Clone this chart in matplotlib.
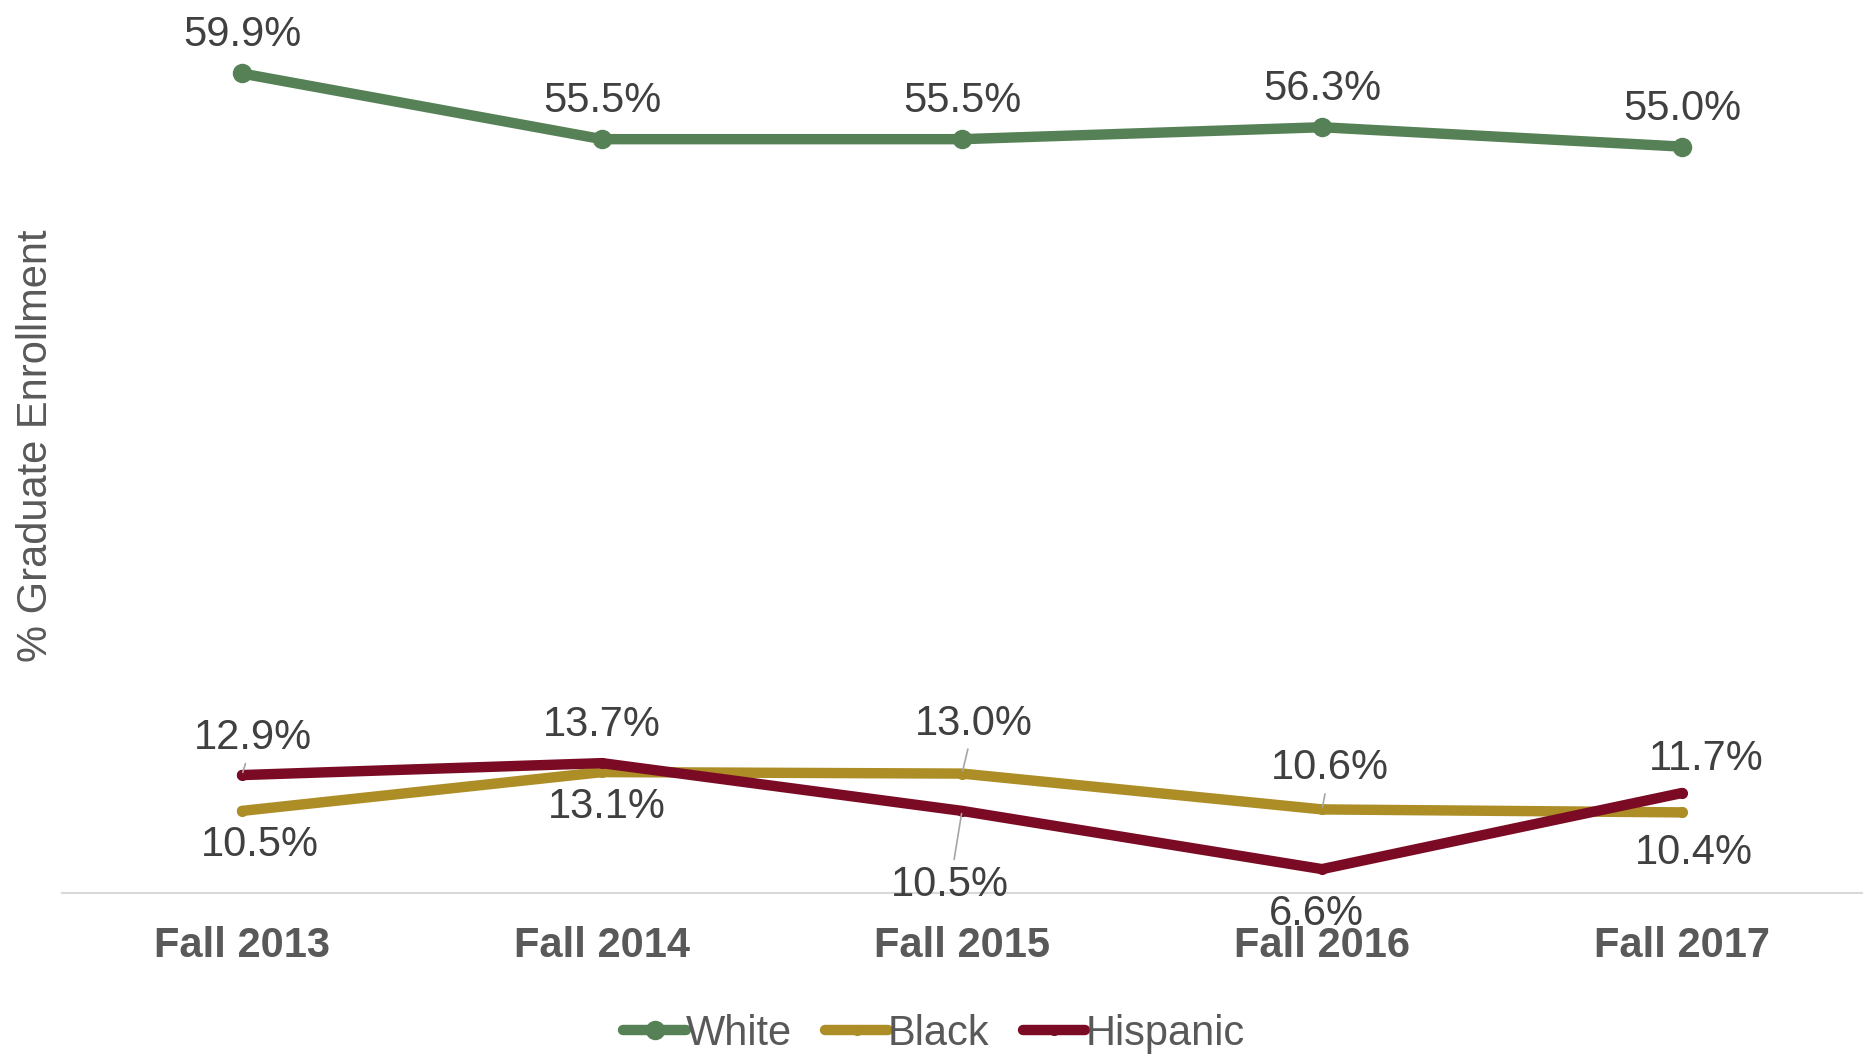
import matplotlib
matplotlib.use("Agg")
import matplotlib.pyplot as plt

plt.rcParams['font.family'] = ['Liberation Sans', 'DejaVu Sans']

categories = ["Fall 2013", "Fall 2014", "Fall 2015", "Fall 2016", "Fall 2017"]
white = [59.9, 55.5, 55.5, 56.3, 55.0]
black = [10.5, 13.1, 13.0, 10.6, 10.4]
hispanic = [12.9, 13.7, 10.5, 6.6, 11.7]
legend_labels = ["White", "Black", "Hispanic"]
ylabel = "% Graduate Enrollment"

c_white = "#568157"
c_black = "#AD8D26"
c_hisp = "#7B0B25"
txt_dark = "#404040"
txt_gray = "#595959"
lead = "#A6A6A6"

W, H = 1865, 1060
fig = plt.figure(figsize=(W / 100, H / 100), dpi=100)
ax = fig.add_axes([62 / W, 1 - 893 / H, 1800 / W, 821 / H])

x = list(range(len(categories)))
ax.plot(x, white, color=c_white, lw=7.5, marker='o', ms=13,
        solid_capstyle='round', label=legend_labels[0], zorder=3, clip_on=False)
ax.plot(x, black, color=c_black, lw=7.5, marker='o', ms=7,
        solid_capstyle='round', label=legend_labels[1], zorder=4, clip_on=False)
ax.plot(x, hispanic, color=c_hisp, lw=7.5, marker='o', ms=7,
        solid_capstyle='round', label=legend_labels[2], zorder=5, clip_on=False)

ax.set_xlim(-0.5, 4.5)
ax.set_ylim(5, 60)
ax.set_yticks([])
ax.set_xticks(x)
ax.set_xticklabels(categories, fontsize=30, fontweight='bold', color=txt_gray)
ax.tick_params(axis='x', length=0, pad=24)
for s in ['top', 'right', 'left']:
    ax.spines[s].set_visible(False)
ax.spines['bottom'].set_color('#D9D9D9')
ax.spines['bottom'].set_linewidth(1.5)

def lab(xi, yi, dx, dy, leader=False):
    kw = dict(textcoords='offset pixels', ha='center', va='center',
              fontsize=30, color=txt_dark, zorder=6, annotation_clip=False)
    if leader:
        kw['arrowprops'] = dict(arrowstyle='-', color=lead, lw=1.2,
                                shrinkA=2, shrinkB=2)
    ax.annotate(f"{yi:.1f}%", xy=(xi, yi), xytext=(dx, dy), **kw)

# White labels (above)
for i, v in enumerate(white):
    lab(i, v, 0, 38)

# Black labels
black_off = [(18, -34, False), (5, -35, False), (12, 50, True), (8, 41, True), (12, -41, False)]
for i, v in enumerate(black):
    dx, dy, ld = black_off[i]
    lab(i, v, dx, dy, ld)

# Hispanic labels
hisp_off = [(11, 37, True), (0, 38, False), (-12, -74, True), (-6, -45, False), (24, 34, False)]
for i, v in enumerate(hispanic):
    dx, dy, ld = hisp_off[i]
    lab(i, v, dx, dy, ld)

fig.text(36 / W, 1 - 446 / H, ylabel, rotation=90, ha='center', va='center',
         fontsize=30, color=txt_gray)

leg = fig.legend(loc='center', bbox_to_anchor=(934 / W, 1 - 1034 / H), ncol=3,
                 frameon=False, fontsize=30, handlelength=1.5, handletextpad=0.0,
                 columnspacing=0.8, borderpad=0)
for t in leg.get_texts():
    t.set_color(txt_gray)

fig.savefig("out.png", dpi=100, facecolor='white')
